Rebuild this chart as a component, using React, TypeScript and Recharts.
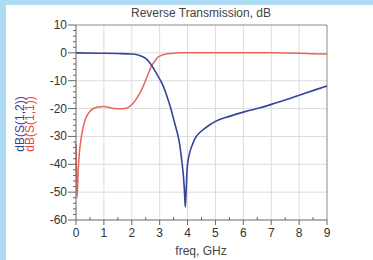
import { Line, LineChart, ReferenceLine, XAxis, YAxis } from "recharts";

const freqS12 = [
  0, 1, 1.5, 2, 2.2, 2.35, 2.5, 2.6, 2.7, 2.8, 2.9, 3, 3.1, 3.2, 3.3, 3.4, 3.5,
  3.6, 3.7, 3.79, 3.85, 3.89, 3.92, 3.95, 3.99, 4.05, 4.1, 4.2, 4.27, 4.44,
  4.62, 4.8, 4.98, 5.5, 6.06, 6.6, 7.13, 7.7, 8.21, 8.6, 9,
];
const dbS12 = [
  0, -0.15, -0.25, -0.4, -0.7, -1.2, -2, -3, -4.3, -5.9, -7.6, -9.4, -11.3,
  -13.8, -16.8, -20, -23.8, -27.5, -31.8, -38.5, -44, -50, -55.3, -49, -41,
  -37, -35, -32.3, -30.7, -28.6, -27.1, -25.8, -24.7, -22.8, -21.1, -19.7,
  -18.1, -16.3, -14.5, -13.2, -11.9,
];

const freqS11 = [
  0, 0.02, 0.04, 0.08, 0.12, 0.18, 0.25, 0.35, 0.5, 0.65, 0.8, 1, 1.2, 1.4,
  1.6, 1.8, 1.95, 2.05, 2.2, 2.3, 2.4, 2.5, 2.6, 2.7, 2.8, 2.9, 3, 3.15, 3.4,
  3.8, 5, 6, 7, 8, 8.5, 9,
];
const dbS11 = [
  -32.5, -45, -52, -42, -36, -31, -27, -23.5, -21, -19.8, -19.4, -19.3, -19.6,
  -20, -20.1, -19.9, -19, -18.1, -16, -14.3, -12.2, -9.8, -7.3, -4.8, -3.3,
  -1.9, -1.2, -0.6, -0.2, 0, 0, 0, 0, -0.1, -0.3, -0.4,
];

const xTicks = [0, 0.5, 1, 1.5, 2, 2.5, 3, 3.5, 4, 4.5, 5, 5.5, 6, 6.5, 7, 7.5, 8, 8.5, 9];
const yTicks = [
  -60, -58, -56, -54, -52, -50, -48, -46, -44, -42, -40, -38, -36, -34, -32,
  -30, -28, -26, -24, -22, -20, -18, -16, -14, -12, -10, -8, -6, -4, -2, 0, 2,
  4, 6, 8, 10,
];
const xGrid = [1, 2, 3, 4, 5, 6, 7, 8];
const yGrid = [-50, -40, -30, -20, -10, 0];

const s12 = freqS12.map((f, i) => ({ f, y: dbS12[i] }));
const s11 = freqS11.map((f, i) => ({ f, y: dbS11[i] }));

const FONT = "'Liberation Sans', Arial, sans-serif";
const BLUE = "#34449a";
const RED = "#e8665c";

const YTick = (props: any) => {
  const { x, y, payload } = props;
  const v = payload.value;
  const major = v % 10 === 0;
  return (
    <g>
      <line x1={x - (major ? 8 : 3)} x2={x} y1={y} y2={y} stroke="#666" />
      {major && (
        <text x={x - 9} y={y} dy={4} textAnchor="end" fontSize={12} fontFamily={FONT} fill="#333">
          {v}
        </text>
      )}
    </g>
  );
};

const XTick = (props: any) => {
  const { x, y, payload } = props;
  const v = payload.value;
  const major = Number.isInteger(v);
  return (
    <g>
      {major ? (
        <line x1={x} x2={x} y1={y} y2={y + 5} stroke="#666" />
      ) : (
        <line x1={x} x2={x} y1={y - 3} y2={y} stroke="#666" />
      )}
      {major && (
        <text x={x} y={y + 17} textAnchor="middle" fontSize={12} fontFamily={FONT} fill="#333">
          {v}
        </text>
      )}
    </g>
  );
};

export default function App() {
  return (
    <div style={{ position: "fixed", left: 0, top: 0, width: 373, height: 260, background: "#aedbf4" }}>
      <div style={{ position: "absolute", left: 6, top: 5, width: 367, height: 255, background: "#fff" }}>
        <LineChart
          width={367}
          height={255}
          margin={{ top: 20, right: 46, bottom: 10, left: 10 }}
        >
          <XAxis
            dataKey="f"
            type="number"
            domain={[0, 9]}
            ticks={xTicks}
            interval={0}
            tickSize={0}
            tickMargin={0}
            tick={XTick}
            tickLine={false}
            axisLine={{ stroke: "#666" }}
            height={30}
            allowDuplicatedCategory={false}
          />
          <YAxis
            type="number"
            domain={[-60, 10]}
            ticks={yTicks}
            interval={0}
            tickSize={0}
            tickMargin={0}
            tick={YTick}
            tickLine={false}
            axisLine={{ stroke: "#666" }}
            width={60}
          />
          {xGrid.map((v) => (
            <ReferenceLine key={"x" + v} x={v} stroke="#dcdcdc" />
          ))}
          {yGrid.map((v) => (
            <ReferenceLine key={"y" + v} y={v} stroke="#dcdcdc" />
          ))}
          <ReferenceLine y={10} stroke="#8a8a8a" />
          <ReferenceLine x={9} stroke="#8a8a8a" />
          <Line
            data={s11}
            dataKey="y"
            type="monotone"
            stroke={RED}
            strokeWidth={1.5}
            dot={false}
            isAnimationActive={false}
          />
          <Line
            data={s12}
            dataKey="y"
            type="monotone"
            stroke={BLUE}
            strokeWidth={1.6}
            dot={false}
            isAnimationActive={false}
          />
        </LineChart>
      </div>
      <svg
        width={373}
        height={260}
        style={{ position: "absolute", left: 0, top: 0, pointerEvents: "none" }}
        fontFamily={FONT}
      >
        <text x={201} y={17} textAnchor="middle" fontSize={12} fill="#444">
          Reverse Transmission, dB
        </text>
        <text x={201} y={255} textAnchor="middle" fontSize={12} fill="#444">
          freq, GHz
        </text>
        <text x={24} y={124} transform="rotate(-90 24 124)" textAnchor="middle" fontSize={12} fill={BLUE}>
          dB(S(1,2))
        </text>
        <text x={34} y={124} transform="rotate(-90 34 124)" textAnchor="middle" fontSize={12} fill="#e8443a">
          dB(S(1,1))
        </text>
      </svg>
    </div>
  );
}
